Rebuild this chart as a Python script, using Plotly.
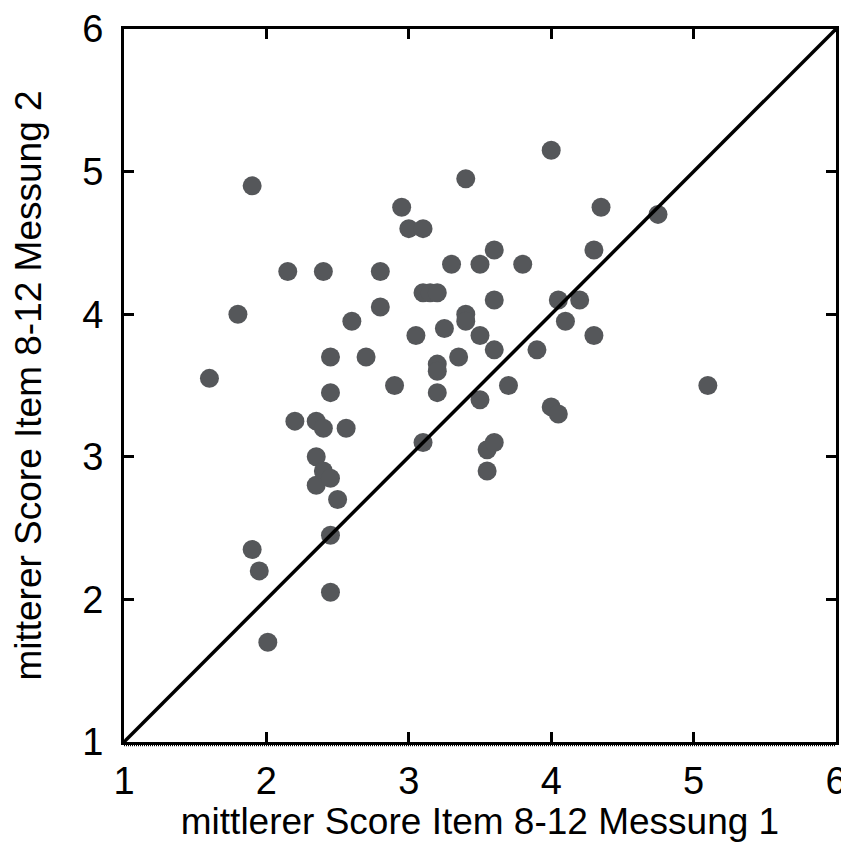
import plotly.graph_objects as go

# mean score items 8-12, measurement 1 (x) vs measurement 2 (y)
messung1 = [1.60, 1.80, 1.90, 1.90, 1.95, 2.01, 2.15, 2.20, 2.35, 2.35, 2.35, 2.40, 2.40, 2.40,
            2.45, 2.45, 2.45, 2.45, 2.45, 2.50, 2.56, 2.60, 2.70, 2.80, 2.80, 2.90, 2.95, 3.00,
            3.05, 3.10, 3.10, 3.15, 3.20, 3.10, 3.20, 3.20, 3.20, 3.25, 3.30, 3.35, 3.40, 3.40,
            3.40, 3.50, 3.50, 3.50, 3.55, 3.55, 3.60, 3.60, 3.60, 3.60, 3.70, 3.80, 3.90, 4.00,
            4.00, 4.05, 4.05, 4.10, 4.20, 4.30, 4.30, 4.35, 4.75, 5.10]
messung2 = [3.55, 4.00, 4.90, 2.35, 2.20, 1.70, 4.30, 3.25, 3.25, 3.00, 2.80, 2.90, 3.20, 4.30,
            3.70, 3.45, 2.85, 2.45, 2.05, 2.70, 3.20, 3.95, 3.70, 4.30, 4.05, 3.50, 4.75, 4.60,
            3.85, 4.60, 4.15, 4.15, 4.15, 3.10, 3.65, 3.60, 3.45, 3.90, 4.35, 3.70, 4.95, 4.00,
            3.95, 4.35, 3.85, 3.40, 3.05, 2.90, 4.45, 4.10, 3.75, 3.10, 3.50, 4.35, 3.75, 5.15,
            3.35, 3.30, 4.10, 3.95, 4.10, 4.45, 3.85, 4.75, 4.70, 3.50]

diagonal = [1, 6]
tick_vals = [1, 2, 3, 4, 5, 6]

font = "Liberation Sans, Arial, Helvetica, sans-serif"

fig = go.Figure()
fig.add_trace(go.Scatter(x=messung1, y=messung2, mode="markers",
                         marker=dict(size=19, color="#55575a", line=dict(width=0)),
                         showlegend=False, hoverinfo="x+y"))
fig.add_trace(go.Scatter(x=diagonal, y=diagonal, mode="lines",
                         line=dict(color="black", width=3.5),
                         showlegend=False, hoverinfo="skip"))

axis_style = dict(range=[1, 6], tickvals=tick_vals, ticks="inside", ticklen=10, tickwidth=2.5,
                  tickcolor="black", showline=True, linewidth=3, linecolor="black",
                  mirror="ticks", showgrid=False, zeroline=False, automargin=False,
                  ticklabeloverflow="allow",
                  tickfont=dict(family=font, size=38, color="black"))

fig.update_xaxes(**axis_style, ticklabelstandoff=3,
                 title=dict(text="mittlerer Score Item 8-12 Messung 1", standoff=8,
                            font=dict(family=font, size=37, color="black")))
fig.update_yaxes(**axis_style, ticklabelstandoff=10,
                 title=dict(text="mitterer Score Item 8-12 Messung 2", standoff=31,
                            font=dict(family=font, size=37, color="black")))

# dotted strip just under the bottom axis
fig.add_shape(type="line", xref="paper", yref="paper", x0=0, x1=1, y0=-0.0045, y1=-0.0045,
              line=dict(color="black", width=2, dash="1px,1px"))

# page body has an 8px margin, so the figure is shrunk to fit the window without scrolling
fig.update_layout(width=841, height=834, plot_bgcolor="white", paper_bgcolor="white",
                  margin=dict(l=116, r=13, t=21, b=100))

fig.write_html("out.html")
